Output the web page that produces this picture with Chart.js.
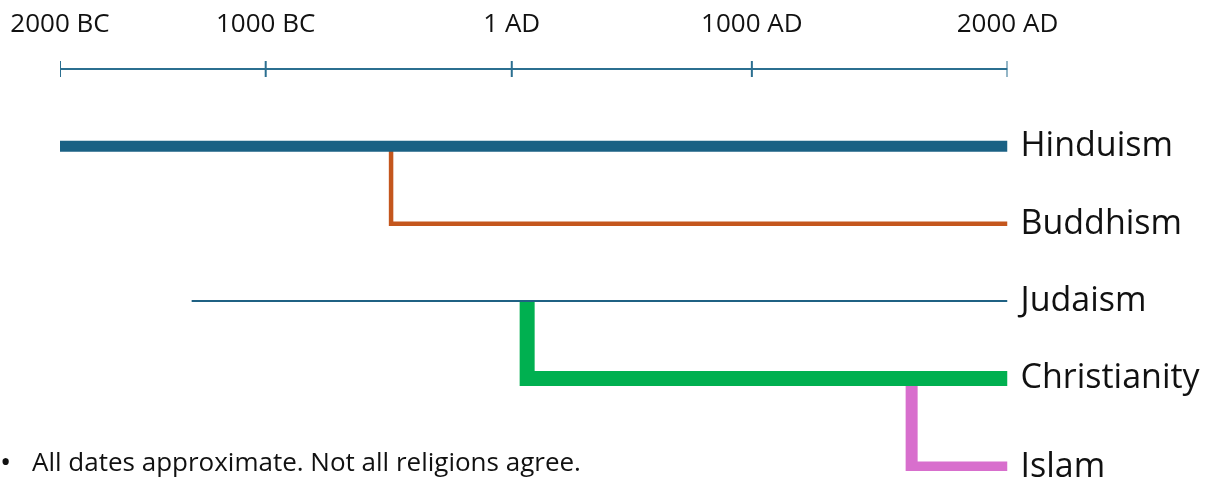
<!DOCTYPE html>
<html lang="en">
<head>
  <meta charset="UTF-8">
  <title>Religions timeline</title>
  <script src="https://cdn.jsdelivr.net/npm/chart.js"></script>
  <style>
    body { margin: 0; background: #fff; }
    canvas { display: block; }
  </style>
</head>
<body>
  <canvas id="timeline" width="1209" height="481"></canvas>
  <script>
    // time axis
    const tickLabels = ['2000 BC', '1000 BC', '1 AD', '1000 AD', '2000 AD'];
    const tickYears = [-2000, -1000, 1, 1000, 2000];

    // religions, top to bottom
    const religions = ['Hinduism', 'Buddhism', 'Judaism', 'Christianity', 'Islam'];
    const rows = [1, 2, 3, 4, 5.15];
    const startYears = [-2000, -490, -1360, 65, 1625];
    const endYears = [2000, 2000, 2000, 2000, 2000];
    const branchFrom = [null, 0, null, 2, 3]; // index of the line it splits off

    const colors = ['#1a6184', '#c4561d', '#1f6183', '#00b050', '#d86fcd'];
    const widths = [11, 4.5, 2, 15, 12];
    const axisColor = '#2b6f90';

    // the slide spaces its ticks unevenly, so the scale follows them piecewise
    const tickFrac = [0, 0.2171, 0.4768, 0.7302, 1];

    class SlideScale extends Chart.LinearScale {
      getPixelForValue(value) {
        if (value === null || value === undefined || isNaN(value)) return NaN;
        let i = 0;
        while (i < tickYears.length - 2 && value > tickYears[i + 1]) i++;
        const t = (value - tickYears[i]) / (tickYears[i + 1] - tickYears[i]);
        return this.getPixelForDecimal(tickFrac[i] + t * (tickFrac[i + 1] - tickFrac[i]));
      }
      getValueForPixel(pixel) {
        const d = this.getDecimalForPixel(pixel);
        let i = 0;
        while (i < tickFrac.length - 2 && d > tickFrac[i + 1]) i++;
        const t = (d - tickFrac[i]) / (tickFrac[i + 1] - tickFrac[i]);
        return tickYears[i] + t * (tickYears[i + 1] - tickYears[i]);
      }
    }
    SlideScale.id = 'slide';
    SlideScale.defaults = Chart.LinearScale.defaults;
    Chart.register(SlideScale);

    const datasets = religions.map((name, i) => {
      const pts = [];
      if (branchFrom[i] !== null) pts.push({ x: startYears[i], y: rows[branchFrom[i]] });
      pts.push({ x: startYears[i], y: rows[i] });
      pts.push({ x: endYears[i], y: rows[i] });
      return {
        label: name,
        data: pts,
        borderColor: colors[i],
        borderWidth: widths[i],
        borderCapStyle: 'butt',
        borderJoinStyle: 'miter',
        pointRadius: 0,
        tension: 0
      };
    });

    // the drawn time axis with its tick marks
    datasets.push({
      label: 'axis',
      data: tickYears.map(y => ({ x: y, y: 0 })),
      borderColor: axisColor,
      borderWidth: 2,
      pointStyle: 'line',
      rotation: 90,
      pointRadius: 8,
      pointBorderWidth: 2,
      pointBorderColor: axisColor
    });

    const labelPlugin = {
      id: 'labels',
      afterDatasetsDraw(chart) {
        const ctx = chart.ctx;
        const xs = chart.scales.x, ys = chart.scales.y;
        ctx.save();
        ctx.fillStyle = '#111';
        ctx.textAlign = 'left';
        ctx.textBaseline = 'alphabetic';
        ctx.font = '34px "Open Sans"';
        religions.forEach((name, i) => {
          ctx.fillText(name, xs.right + 13, ys.getPixelForValue(rows[i]) + 10);
        });
        ctx.font = '30px "Open Sans"';
        ctx.fillText('\u2022', 0, 472);
        ctx.font = '26px "Open Sans"';
        ctx.fillText('All dates approximate. Not all religions agree.', 32, 471);
        ctx.restore();
      }
    };

    new Chart(document.getElementById('timeline'), {
      type: 'line',
      data: { datasets },
      options: {
        responsive: false,
        animation: false,
        layout: { padding: { left: 60, right: 201.5, top: 0, bottom: 0 } },
        plugins: { legend: { display: false }, tooltip: { enabled: false } },
        scales: {
          x: {
            type: 'slide',
            position: 'top',
            min: -2000,
            max: 2000,
            afterBuildTicks: s => { s.ticks = tickYears.map(v => ({ value: v })); },
            afterFit: s => { s.height = 42; },
            grid: { display: false, drawTicks: false },
            border: { display: false },
            ticks: {
              autoSkip: false,
              maxRotation: 0,
              padding: 2,
              color: '#111',
              font: { family: 'Open Sans', size: 26 },
              callback: (v, i) => tickLabels[i]
            }
          },
          y: {
            type: 'linear',
            reverse: true,
            min: -0.348,
            max: 5.196,
            display: false
          }
        }
      },
      plugins: [labelPlugin]
    });
  </script>
</body>
</html>
